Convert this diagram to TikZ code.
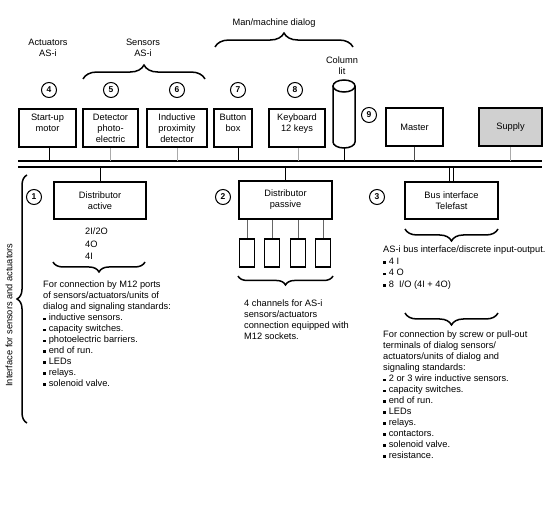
\documentclass[tikz,border=0pt]{standalone}
\usepackage{fontspec}
\setmainfont{Liberation Sans}
\usetikzlibrary{decorations.pathreplacing}
\newcommand\fsz{\fontsize{9.3}{11}\selectfont}
\newcommand\bul{\rule[0.6bp]{2.6bp}{2.6bp}\hspace{3bp}}
\definecolor{supplygray}{RGB}{208,208,208}
\definecolor{stubgray}{RGB}{170,170,170}
\begin{document}
\begin{tikzpicture}[x=1bp,y=-1bp,
  box/.style={draw,line width=1.6bp,inner sep=1bp,align=center,font=\fsz},
  sbox/.style={draw,line width=1.6bp,minimum width=15bp,minimum height=28bp,inner sep=0},
  circ/.style={circle,draw,line width=1bp,inner sep=0,minimum size=15bp,font=\bfseries\fontsize{8.5}{10}\selectfont},
  txt/.style={inner sep=0,align=left,font=\fsz},
  ctxt/.style={inner sep=0,align=center,font=\fsz},
  stub/.style={line width=1bp},
  gstub/.style={line width=1bp,stubgray},
  busline/.style={line width=1.2bp},
  brc/.style={decorate,line width=1.5bp,decoration={brace,amplitude=#1}},
  brcd/.style={decorate,line width=1.5bp,decoration={brace,mirror,amplitude=#1}}
]
\useasboundingbox (0,0) rectangle (552,508);

% bus
\coordinate (b1L) at (18,161); \coordinate (b1R) at (542,161);
\coordinate (b2L) at (18,167); \coordinate (b2R) at (542,167);
\draw[busline] (b1L) -- (b1R);
\draw[busline] (b2L) -- (b2R);

% top labels
\node[ctxt] (mm) at (274,23) {Man/machine dialog};
\draw[brc=14] (215,47) -- (353,47);
\node[ctxt] (act) at (48,48) {Actuators\\AS-i};
\node[ctxt] (sen) at (143,48) {Sensors\\AS-i};
\draw[brc=14] (83,79) -- (205,79);
\node[ctxt] (coll) at (342,65.5) {Column\\lit};

% circles
\node[circ] (c4) at (49,90) {4};
\node[circ] (c5) at (111,90) {5};
\node[circ] (c6) at (177,90) {6};
\node[circ] (c7) at (238,90) {7};
\node[circ] (c8) at (295,90) {8};
\node[circ] (c9) at (369,115) {9};

% top boxes
\node[box,minimum width=57bp,minimum height=38bp] (motor) at (47.5,128) {Start-up\\motor\\\mbox{}};
\node[box,minimum width=55bp,minimum height=38bp] (photo) at (110.5,128) {Detector\\photo-\\electric};
\node[box,minimum width=60bp,minimum height=38bp] (induct) at (177,128) {Inductive\\proximity\\detector};
\node[box,minimum width=38bp,minimum height=38bp] (button) at (233,128) {Button\\box\\\mbox{}};
\node[box,minimum width=56bp,minimum height=38bp] (keyb) at (297,128) {Keyboard\\12 keys\\\mbox{}};
\node[box,minimum width=57bp,minimum height=38bp] (master) at (414.5,127) {Master};
\node[box,minimum width=63bp,minimum height=38bp,fill=supplygray] (supply) at (510.5,127) {Supply};

% column lit
\draw[line width=1.5bp] (333,86) -- (333,142) arc[start angle=180,end angle=0,x radius=11,y radius=6] -- (355,86);
\draw[line width=1.5bp] (344,86) ellipse[x radius=11,y radius=6];
\coordinate (colbot) at (344,148);

% stubs
\draw[stub] ([xshift=1.5bp]motor.south) -- ([xshift=1.5bp]motor.south |- b1L);
\draw[gstub] (photo.south) -- (photo.south |- b1L);
\draw[gstub] (induct.south) -- (induct.south |- b1L);
\draw[stub] ([xshift=5bp]button.south) -- ([xshift=5bp]button.south |- b1L);
\draw[gstub] ([xshift=1bp]keyb.south) -- ([xshift=1bp]keyb.south |- b1L);
\draw[stub] (colbot) -- (colbot |- b1L);
\draw[stub,black!70] (master.south) -- (master.south |- b1L);
\draw[gstub] (supply.south) -- (supply.south |- b1L);

% left interface brace
\draw[brc=10] (27,423) -- (27,175);
\node[ctxt,rotate=90] (iface) at (9,315) {Interface for sensors and actuators};

% distributor active
\node[box,minimum width=92bp,minimum height=37bp] (dact) at (100,200.5) {Distributor\\active};
\draw[stub] (dact.north) -- (dact.north |- b2L);
\node[circ] (c1) at (34,197) {1};
\node[txt,anchor=north west,font=\fontsize{9.3}{12.5}\selectfont] (io) at (85,228) {2I/2O\\4O\\4I};
\draw[brcd=10] (53,262) -- (145,262);
\node[txt,anchor=north west] (actdesc) at (43,281) {For connection by M12 ports\\of sensors/actuators/units of\\dialog and signaling standards:\\\bul inductive sensors.\\\bul capacity switches.\\\bul photoelectric barriers.\\\bul end of run.\\\bul LEDs\\\bul relays.\\\bul solenoid valve.};

% distributor passive
\node[box,minimum width=93bp,minimum height=38bp] (dpas) at (285.5,200) {Distributor\\passive};
\draw[stub] (dpas.north) -- (dpas.north |- b2L);
\node[circ] (c2) at (223,197) {2};
\node[sbox] (s1) at (247,253) {};
\node[sbox] (s2) at (272,253) {};
\node[sbox] (s3) at (298,253) {};
\node[sbox] (s4) at (323,253) {};
\foreach \s in {s1,s2,s3,s4} \draw[line width=0.8bp,black!60] (\s.north) -- (\s.north |- dpas.south);
\draw[brcd=9] (238,276) -- (333,276);
\node[txt,anchor=north west] (pasdesc) at (244,300) {4 channels for AS-i\\sensors/actuators\\connection equipped with\\M12 sockets.};

% telefast
\node[box,minimum width=93bp,minimum height=37bp] (tele) at (451.5,200.5) {Bus interface\\Telefast};
\draw[stub] ([xshift=-2bp]tele.north) -- ([xshift=-2bp]tele.north |- b2L);
\draw[stub] ([xshift=2bp]tele.north) -- ([xshift=2bp]tele.north |- b2L);
\node[circ] (c3) at (377,197) {3};
\draw[brcd=12] (405,229) -- (498,229);
\node[txt,anchor=north west,font=\fontsize{9.3}{11.5}\selectfont] (teledesc) at (383,246) {AS-i bus interface/discrete input-output.\\\bul 4 I\\\bul 4 O\\\bul 8\ \ I/O (4I + 4O)};
\draw[brcd=12] (405,313) -- (498,313);
\node[txt,anchor=north west] (teledesc2) at (383,331) {For connection by screw or pull-out\\terminals of dialog sensors/\\actuators/units of dialog and\\signaling standards:\\\bul 2 or 3 wire inductive sensors.\\\bul capacity switches.\\\bul end of run.\\\bul LEDs\\\bul relays.\\\bul contactors.\\\bul solenoid valve.\\\bul resistance.};
\end{tikzpicture}
\end{document}
